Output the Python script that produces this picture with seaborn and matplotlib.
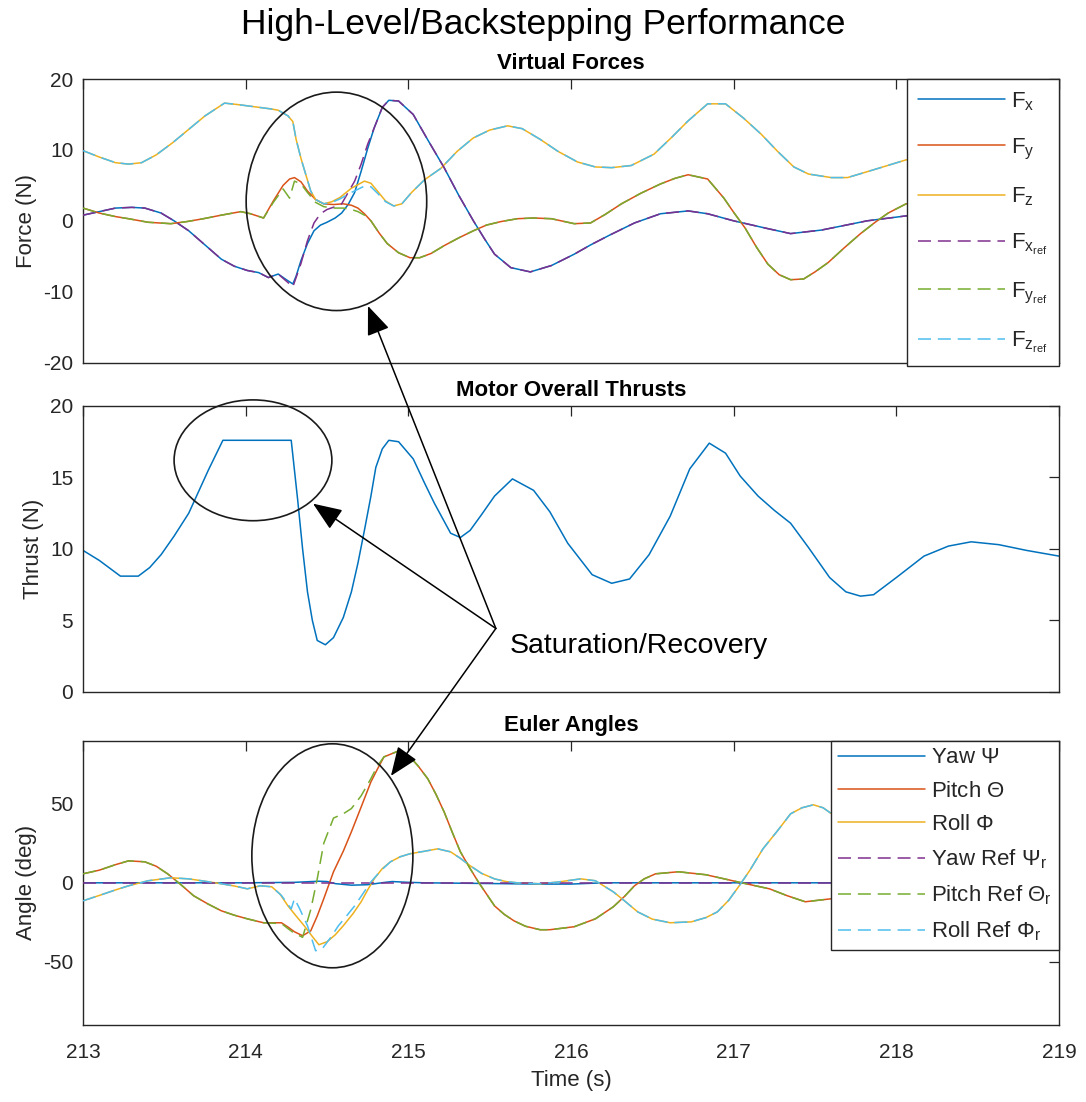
import numpy as np
import matplotlib
matplotlib.use("Agg")
import matplotlib.pyplot as plt
import seaborn as sns
from matplotlib.patches import Ellipse, ConnectionPatch

# ---------------- data ----------------
# Virtual forces
t_fz = [213.0, 213.1, 213.2, 213.28, 213.36, 213.45, 213.55, 213.65, 213.75, 213.87, 213.95, 214.05,
        214.15, 214.2, 214.26, 214.29, 214.31, 214.34, 214.37, 214.40, 214.43, 214.48, 214.53, 214.58,
        214.65, 214.73, 214.77, 214.81, 214.86, 214.91, 214.96, 215.02, 215.1, 215.2, 215.3, 215.4,
        215.5, 215.61, 215.7, 215.81, 215.92, 216.04, 216.15, 216.25, 216.37, 216.51, 216.62, 216.72,
        216.84, 216.95, 217.06, 217.17, 217.27, 217.37, 217.46, 217.6, 217.7, 217.86, 218.06, 218.5, 219.0]
fz = [9.9, 9.0, 8.2, 8.0, 8.2, 9.3, 11.0, 12.9, 14.8, 16.6, 16.4, 16.1,
      15.8, 15.6, 14.8, 14.0, 11.5, 8.8, 6.5, 4.2, 3.0, 2.4, 2.7, 3.3,
      4.6, 5.6, 5.3, 4.2, 2.8, 2.1, 2.4, 4.0, 5.8, 7.4, 9.8, 11.7,
      12.8, 13.4, 13.0, 11.5, 9.8, 8.3, 7.6, 7.5, 7.8, 9.4, 11.8, 14.1,
      16.5, 16.5, 14.5, 12.2, 9.8, 7.6, 6.6, 6.1, 6.1, 7.2, 8.6, 9.5, 10.3]
fz_ref = [9.9, 9.0, 8.2, 8.0, 8.2, 9.3, 11.0, 12.9, 14.8, 16.6, 16.4, 16.1,
          15.8, 15.6, 14.8, 14.0, 11.5, 8.8, 6.5, 4.2, 3.0, 2.4, 2.6, 3.1,
          4.0, 4.9, 4.8, 3.9, 2.7, 2.1, 2.4, 4.0, 5.8, 7.4, 9.8, 11.7,
          12.8, 13.4, 13.0, 11.5, 9.8, 8.3, 7.6, 7.5, 7.8, 9.4, 11.8, 14.1,
          16.5, 16.5, 14.5, 12.2, 9.8, 7.6, 6.6, 6.1, 6.1, 7.2, 8.6, 9.5, 10.3]

t_fx = [213.0, 213.1, 213.2, 213.3, 213.38, 213.48, 213.56, 213.65, 213.75, 213.85, 213.93, 214.01,
        214.08, 214.14, 214.2, 214.25, 214.29, 214.31, 214.34, 214.38, 214.42, 214.46, 214.50, 214.55,
        214.59, 214.63, 214.67, 214.71, 214.75, 214.79, 214.84, 214.88, 214.94, 215.03, 215.12, 215.22,
        215.31, 215.40, 215.47, 215.53, 215.63, 215.75, 215.88, 216.02, 216.12, 216.23, 216.39, 216.55,
        216.72, 216.84, 217.0, 217.21, 217.35, 217.54, 217.82, 218.06, 218.5, 219.0]
fx = [0.8, 1.3, 1.8, 1.9, 1.8, 1.1, 0.0, -1.4, -3.4, -5.4, -6.4, -7.0,
      -7.3, -8.0, -7.5, -8.3, -8.9, -7.8, -5.6, -3.2, -1.4, -0.6, -0.2, 0.4,
      1.1, 2.3, 4.0, 7.0, 10.2, 13.1, 16.0, 17.0, 16.9, 15.0, 11.4, 7.5,
      3.6, 0.0, -2.6, -4.7, -6.6, -7.2, -6.3, -4.7, -3.4, -2.1, -0.3, 1.0,
      1.4, 1.0, 0.0, -1.1, -1.8, -1.3, 0.0, 0.7, 1.2, 1.6]
fx_ref = [0.8, 1.3, 1.8, 1.9, 1.8, 1.1, 0.0, -1.4, -3.4, -5.4, -6.4, -7.0,
          -7.3, -8.0, -7.5, -8.5, -9.3, -8.0, -6.0, -2.8, -0.3, 1.0, 1.6, 2.0,
          2.4, 4.0, 5.6, 8.0, 10.8, 13.1, 16.0, 17.0, 16.9, 15.0, 11.4, 7.5,
          3.6, 0.0, -2.6, -4.7, -6.6, -7.2, -6.3, -4.7, -3.4, -2.1, -0.3, 1.0,
          1.4, 1.0, 0.0, -1.1, -1.8, -1.3, 0.0, 0.7, 1.2, 1.6]

t_fy = [213.0, 213.1, 213.2, 213.28, 213.4, 213.54, 213.64, 213.74, 213.85, 213.97, 214.03, 214.11,
        214.17, 214.23, 214.27, 214.30, 214.34, 214.38, 214.43, 214.48, 214.54, 214.60, 214.65, 214.69,
        214.73, 214.77, 214.82, 214.87, 214.94, 215.01, 215.07, 215.14, 215.22, 215.31, 215.40, 215.48,
        215.57, 215.67, 215.77, 215.88, 216.02, 216.12, 216.21, 216.31, 216.43, 216.55, 216.64, 216.72,
        216.84, 216.94, 217.0, 217.07, 217.14, 217.21, 217.28, 217.35, 217.43, 217.5, 217.58, 217.68,
        217.78, 217.87, 217.95, 218.06, 218.5, 219.0]
fy = [1.8, 1.1, 0.6, 0.3, -0.2, -0.4, -0.1, 0.3, 0.8, 1.3, 1.0, 0.4,
      2.8, 5.0, 5.9, 6.1, 5.5, 4.2, 3.0, 2.4, 2.3, 2.4, 2.2, 1.8,
      1.0, 0.0, -1.7, -3.2, -4.5, -5.2, -5.2, -4.6, -3.5, -2.4, -1.4, -0.6,
      -0.1, 0.3, 0.4, 0.3, -0.4, -0.3, 0.9, 2.4, 3.9, 5.2, 6.0, 6.5,
      5.9, 3.2, 1.2, -1.0, -3.7, -6.1, -7.6, -8.3, -8.2, -7.2, -5.9, -3.8,
      -1.8, -0.2, 1.1, 2.4, 3.0, 2.2]
fy_ref = [1.8, 1.1, 0.6, 0.3, -0.2, -0.4, -0.1, 0.3, 0.8, 1.3, 1.0, 0.4,
          2.6, 4.5, 3.2, 5.6, 5.2, 4.0, 2.6, 2.0, 1.8, 1.8, 1.6, 1.3,
          0.8, 0.0, -1.7, -3.2, -4.5, -5.2, -5.2, -4.6, -3.5, -2.4, -1.4, -0.6,
          -0.1, 0.3, 0.4, 0.3, -0.4, -0.3, 0.9, 2.4, 3.9, 5.2, 6.0, 6.5,
          5.9, 3.2, 1.2, -1.0, -3.7, -6.1, -7.6, -8.3, -8.2, -7.2, -5.9, -3.8,
          -1.8, -0.2, 1.1, 2.4, 3.0, 2.2]

# Motor overall thrust
t_thrust = [213.0, 213.1, 213.23, 213.34, 213.41, 213.48, 213.56, 213.65, 213.77, 213.86, 214.28, 214.32,
            214.35, 214.38, 214.41, 214.44, 214.49, 214.54, 214.60, 214.65, 214.69, 214.73, 214.77, 214.80,
            214.84, 214.88, 214.94, 215.03, 215.1, 215.16, 215.26, 215.32, 215.38, 215.45, 215.53, 215.64,
            215.77, 215.87, 215.98, 216.13, 216.25, 216.36, 216.48, 216.61, 216.73, 216.85, 216.95, 217.04,
            217.15, 217.25, 217.35, 217.46, 217.59, 217.69, 217.78, 217.86, 218.0, 218.17, 218.32, 218.46,
            218.63, 218.8, 219.0]
thrust = [9.9, 9.2, 8.1, 8.1, 8.7, 9.6, 10.9, 12.5, 15.5, 17.6, 17.6, 13.4,
          10.0, 7.0, 5.0, 3.6, 3.3, 3.8, 5.2, 7.0, 9.0, 11.3, 13.7, 15.7,
          17.0, 17.6, 17.5, 16.3, 14.6, 13.2, 11.1, 10.8, 11.3, 12.4, 13.7, 14.9,
          14.1, 12.6, 10.4, 8.2, 7.6, 7.9, 9.6, 12.3, 15.6, 17.4, 16.7, 15.1,
          13.7, 12.7, 11.8, 10.1, 8.0, 7.0, 6.7, 6.8, 8.0, 9.5, 10.2, 10.5,
          10.3, 9.9, 9.5]

# Euler angles
t_yaw = [213.0, 214.0, 214.3, 214.45, 214.5, 214.55, 214.65, 214.75, 214.85, 214.9, 215.0, 215.1,
         215.8, 216.0, 216.2, 219.0]
yaw = [0.0, 0.0, 0.3, 1.0, 0.8, -0.5, -1.5, -1.2, 0.2, 0.8, 0.3, 0.0,
       -0.8, -0.8, 0.0, 0.0]
t_yaw_ref = [213.0, 219.0]
yaw_ref = [0.0, 0.0]

t_pitch = [213.0, 213.1, 213.2, 213.28, 213.38, 213.45, 213.52, 213.6, 213.68, 213.77, 213.85, 213.93,
           214.01, 214.11, 214.22, 214.26, 214.30, 214.35, 214.40, 214.44, 214.48, 214.54, 214.60, 214.65,
           214.71, 214.77, 214.81, 214.85, 214.94, 215.01, 215.06, 215.12, 215.17, 215.22, 215.27, 215.32,
           215.38, 215.43, 215.48, 215.53, 215.59, 215.65, 215.72, 215.81, 215.87, 216.02, 216.15, 216.26,
           216.33, 216.39, 216.45, 216.52, 216.66, 216.83, 217.05, 217.22, 217.33, 217.44, 217.60, 218.0,
           218.5, 219.0]
pitch = [5.7, 8.0, 11.5, 13.9, 13.3, 10.5, 5.7, -1.0, -8.2, -13.5, -17.7, -20.5,
         -22.8, -25.3, -25.3, -28.0, -31.0, -33.5, -30.4, -21.0, -10.1, 7.0, 20.0, 32.3,
         48.0, 63.9, 72.0, 79.7, 83.5, 79.7, 74.0, 65.8, 56.0, 44.9, 32.0, 19.6,
         9.0, 0.6, -7.0, -14.6, -20.0, -24.1, -27.5, -29.7, -29.7, -27.8, -22.8, -15.2,
         -8.5, -1.9, 2.5, 5.7, 7.0, 5.1, 0.0, -3.8, -8.2, -12.0, -10.1, -5.0,
         0.0, 2.0]
pitch_ref = [5.7, 8.0, 11.5, 13.9, 13.3, 10.5, 5.7, -1.0, -8.2, -13.5, -17.7, -20.5,
             -22.8, -25.3, -25.8, -29.0, -32.0, -34.5, -17.0, 2.5, 25.0, 41.0, 43.7, 47.0,
             55.1, 66.0, 74.0, 79.7, 83.5, 79.7, 74.0, 65.8, 56.0, 44.9, 32.0, 19.6,
             9.0, 0.6, -7.0, -14.6, -20.0, -24.1, -27.5, -29.7, -29.7, -27.8, -22.8, -15.2,
             -8.5, -1.9, 2.5, 5.7, 7.0, 5.1, 0.0, -3.8, -8.2, -12.0, -10.1, -5.0,
             0.0, 2.0]

t_roll = [213.0, 213.1, 213.2, 213.28, 213.4, 213.54, 213.65, 213.73, 213.85, 213.93, 214.01, 214.09,
          214.16, 214.21, 214.26, 214.31, 214.36, 214.41, 214.45, 214.50, 214.55, 214.60, 214.66, 214.71,
          214.75, 214.79, 214.84, 214.89, 214.95, 215.01, 215.1, 215.18, 215.26, 215.32, 215.38, 215.45,
          215.53, 215.6, 215.67, 215.81, 215.92, 216.06, 216.15, 216.26, 216.33, 216.41, 216.5, 216.61,
          216.74, 216.83, 216.90, 216.97, 217.03, 217.1, 217.18, 217.27, 217.35, 217.42, 217.49, 217.55,
          217.62, 218.0, 218.5, 219.0]
roll = [-11.4, -8.0, -4.5, -1.9, 1.3, 3.2, 2.5, 1.3, -0.6, -2.0, -3.8, -1.9,
        -2.5, -7.0, -14.6, -21.0, -27.2, -34.0, -39.2, -37.3, -33.0, -27.2, -19.5, -12.0,
        -4.5, 2.5, 9.0, 13.3, 16.5, 18.4, 20.0, 21.5, 19.6, 15.5, 10.8, 6.0,
        2.5, 0.8, 0.0, -0.6, 0.5, 2.5, 1.3, -5.7, -11.5, -18.4, -23.0, -25.3,
        -24.7, -22.0, -18.4, -11.0, -2.5, 8.0, 21.5, 33.0, 43.7, 47.5, 49.4, 47.5,
        42.4, 20.0, 5.0, 0.0]
t_roll_ref = [213.0, 213.1, 213.2, 213.28, 213.4, 213.54, 213.65, 213.73, 213.85, 213.93, 214.01, 214.09,
              214.16, 214.22, 214.28, 214.30, 214.33, 214.38, 214.43, 214.47, 214.52, 214.57, 214.62, 214.67,
              214.72, 214.77, 214.83, 214.89, 214.95, 215.01, 215.1, 215.18, 215.26, 215.32, 215.38, 215.45,
              215.53, 215.6, 215.67, 215.81, 215.92, 216.06, 216.15, 216.26, 216.33, 216.41, 216.5, 216.61,
              216.74, 216.83, 216.90, 216.97, 217.03, 217.1, 217.18, 217.27, 217.35, 217.42, 217.49, 217.55,
              217.62, 218.0, 218.5, 219.0]
roll_ref = [-11.4, -8.0, -4.5, -1.9, 1.3, 3.2, 2.5, 1.3, -0.6, -2.0, -3.8, -1.9,
            -2.5, -8.0, -16.5, -10.1, -16.0, -27.2, -43.0, -41.8, -35.0, -27.2, -21.0, -14.6,
            -7.0, 0.6, 7.6, 13.3, 16.5, 18.4, 20.0, 21.5, 19.6, 15.5, 10.8, 6.0,
            2.5, 0.8, 0.0, -0.6, 0.5, 2.5, 1.3, -5.7, -11.5, -18.4, -23.0, -25.3,
            -24.7, -22.0, -18.4, -11.0, -2.5, 8.0, 21.5, 33.0, 43.7, 47.5, 49.4, 47.5,
            42.4, 20.0, 5.0, 0.0]

force_labels = [r"$\mathregular{F_x}$", r"$\mathregular{F_y}$", r"$\mathregular{F_z}$",
                r"$\mathregular{F_{x_{ref}}}$", r"$\mathregular{F_{y_{ref}}}$", r"$\mathregular{F_{z_{ref}}}$"]
angle_labels = [r"Yaw $\Psi$", r"Pitch $\Theta$", r"Roll $\Phi$",
                r"Yaw Ref $\Psi_r$", r"Pitch Ref $\Theta_r$", r"Roll Ref $\Phi_r$"]
xticks = [213, 214, 215, 216, 217, 218, 219]

# ---------------- style ----------------
sns.set_style("white")
plt.rcParams['font.family'] = ['Liberation Sans', 'DejaVu Sans']
plt.rcParams['axes.unicode_minus'] = False
plt.rcParams['mathtext.fontset'] = 'custom'
plt.rcParams['mathtext.rm'] = 'Liberation Sans'
plt.rcParams['mathtext.it'] = 'Liberation Sans'
plt.rcParams['mathtext.bf'] = 'Liberation Sans:bold'
plt.rcParams['mathtext.sf'] = 'Liberation Sans'
plt.rcParams['mathtext.fallback'] = 'cm'

C = ['#0072BD', '#D95319', '#EDB120', '#7E2F8E', '#77AC30', '#4DBEEE']
DARK = '#262626'
LW = 1.1
DASH = (0, (8.5, 4.5))

fig = plt.figure(figsize=(10.86, 11.02), dpi=100)
L, W = 83 / 1086, 976 / 1086
ax1 = fig.add_axes([L, 0.6709, W, 0.2574])
ax2 = fig.add_axes([L, 0.3721, W, 0.2595])
ax3 = fig.add_axes([L, 0.0699, W, 0.2580])

def line(ax, x, y, c, ls='-', z=2):
    sns.lineplot(x=x, y=y, ax=ax, color=c, linestyle=ls, linewidth=LW,
                 errorbar=None, sort=False, zorder=z, legend=False)

# Top: virtual forces
line(ax1, t_fx, fx, C[0])
line(ax1, t_fy, fy, C[1])
line(ax1, t_fz, fz, C[2])
line(ax1, t_fx, fx_ref, C[3], DASH, z=3)
line(ax1, t_fy, fy_ref, C[4], DASH, z=3)
line(ax1, t_fz, fz_ref, C[5], DASH, z=3)

# Middle: thrust
line(ax2, t_thrust, thrust, C[0])

# Bottom: Euler angles
line(ax3, t_yaw, yaw, C[0])
line(ax3, t_pitch, pitch, C[1])
line(ax3, t_roll, roll, C[2])
line(ax3, t_yaw_ref, yaw_ref, C[3], DASH, z=3)
line(ax3, t_pitch, pitch_ref, C[4], DASH, z=3)
line(ax3, t_roll_ref, roll_ref, C[5], DASH, z=3)

for ax, ylim, yt, ylab in [(ax1, (-20, 20), [-20, -10, 0, 10, 20], "Force (N)"),
                            (ax2, (0, 20), [0, 5, 10, 15, 20], "Thrust (N)"),
                            (ax3, (-90, 90), [-50, 0, 50], "Angle (deg)")]:
    ax.set_xlim(213, 219)
    ax.set_ylim(*ylim)
    ax.set_xticks(xticks)
    ax.set_yticks(yt)
    ax.set_ylabel(ylab, fontsize=16, color=DARK, labelpad=4)
    ax.set_xlabel("")
    ax.tick_params(direction='in', length=7, width=0.9, top=True, right=True,
                   labelsize=15, colors=DARK)
    ax.tick_params(axis='y', pad=7)
    ax.tick_params(axis='x', pad=13)
    for s in ax.spines.values():
        s.set_color(DARK)
        s.set_linewidth(1.0)
ax1.set_xticklabels([])
ax2.set_xticklabels([])
ax3.set_xlabel("Time (s)", fontsize=16, color=DARK, labelpad=6)

for ax, ttl in [(ax1, "Virtual Forces"), (ax2, "Motor Overall Thrusts"), (ax3, "Euler Angles")]:
    ax.set_title(ttl, fontsize=16, fontweight='bold', pad=7, color='black')
fig.suptitle("High-Level/Backstepping Performance", fontsize=25.5, y=0.993, va='top', color='black')

# Legends
h1 = ax1.get_lines()[:6]
leg1 = ax1.legend(h1, force_labels, loc='upper right', bbox_to_anchor=(1.0, 1.0),
                  fontsize=16, handlelength=3.9, handletextpad=0.3, labelspacing=1.07,
                  borderpad=0.5, borderaxespad=0.0, frameon=True, fancybox=False,
                  framealpha=1.0, edgecolor=DARK)
leg1.get_frame().set_linewidth(1.0)
h3 = ax3.get_lines()[:6]
leg3 = ax3.legend(h3, angle_labels, loc='upper right', bbox_to_anchor=(1.0, 1.0),
                  fontsize=16, handlelength=3.9, handletextpad=0.3, labelspacing=0.56,
                  borderpad=0.3, borderaxespad=0.0, frameon=True, fancybox=False,
                  framealpha=1.0, edgecolor=DARK)
leg3.get_frame().set_linewidth(1.0)

# Annotations: ellipses
for ax, cx, cy, w, h in [(ax1, 214.558, 2.75, 1.11, 30.8),
                          (ax2, 214.045, 16.2, 0.97, 8.45),
                          (ax3, 214.533, 17.1, 0.99, 141.8)]:
    e = Ellipse((cx, cy), w, h, fill=False, edgecolor='#1a1a1a', linewidth=1.2,
                clip_on=False, zorder=5)
    ax.add_patch(e)

# Arrows from common vertex
tail = (215.538, 4.44)
for ax, head in [(ax1, (214.752, -12.0)), (ax2, (214.414, 13.17)), (ax3, (214.893, 67.7))]:
    cp = ConnectionPatch(xyA=tail, coordsA=ax2.transData, xyB=head, coordsB=ax.transData,
                         arrowstyle="-|>,head_length=0.9,head_width=0.36", mutation_scale=20,
                         color='black', linewidth=1.1, shrinkA=0, shrinkB=0, zorder=10)
    fig.add_artist(cp)

ax2.text(215.62, 3.2, "Saturation/Recovery", fontsize=20.5, color='black', va='center', ha='left')

fig.savefig("out.png", dpi=100)
